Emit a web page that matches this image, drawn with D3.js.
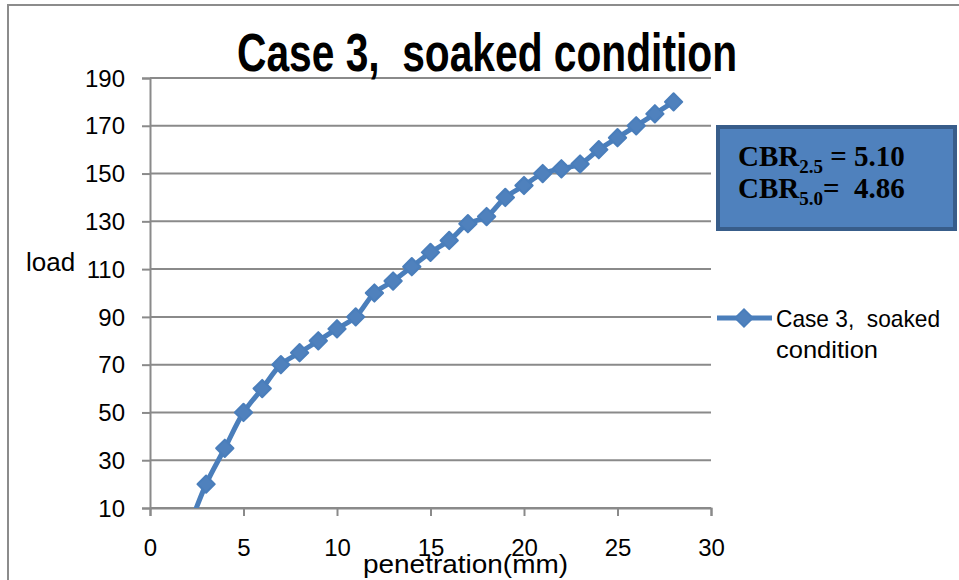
<!DOCTYPE html>
<html><head><meta charset="utf-8">
<script src="https://cdn.jsdelivr.net/npm/d3@7"></script>
<style>
html,body{margin:0;padding:0;background:#fff;}
svg{display:block;}
svg text{white-space:pre;}
</style></head>
<body>
<svg id="chart" width="959" height="580"></svg>
<script>
// ---- data ----
const penetration = [2,3,4,5,6,7,8,9,10,11,12,13,14,15,16,17,18,19,20,21,22,23,24,25,26,27,28];
const load        = [0,20,35,50,60,70,75,80,85,90,100,105,111,117,122,129,132,140,145,150,152,154,160,165,170,175,180];
const xTickValues = [0,5,10,15,20,25,30];
const yTickValues = [10,30,50,70,90,110,130,150,170,190];
const titleText = "Case 3,  soaked condition";
const seriesName = ["Case 3,  soaked", "condition"];
const xLabel = "penetration(mm)";
const yLabel = "load";
const cbrLines = [{sub:"2.5", rest:" = 5.10"}, {sub:"5.0", rest:"=  4.86"}];

const svg = d3.select("#chart");
const W = 959, H = 580;
const gridColor = "#8a8a8a";
const blue = "#4A7EBB";
const sans = "'Liberation Sans', Arial, sans-serif";

// chart frame (only top and left visible)
svg.append("rect").attr("x", 8).attr("y", 5).attr("width", W + 20).attr("height", H + 20)
  .attr("fill", "#fff").attr("stroke", "#8c8c8c").attr("stroke-width", 2);

const x = d3.scaleLinear().domain([0, 30]).range([150, 711]);
const y = d3.scaleLinear().domain([10, 190]).range([508, 78]);

// gridlines
svg.append("g").selectAll("line").data(yTickValues).join("line")
  .attr("x1", x(0)).attr("x2", x(30))
  .attr("y1", d => y(d)).attr("y2", d => y(d))
  .attr("stroke", gridColor).attr("stroke-width", 2);

// y axis
const yAxis = svg.append("g").attr("transform", `translate(${x(0)},0)`)
  .call(d3.axisLeft(y).tickValues(yTickValues).tickSize(8).tickPadding(17));
yAxis.select(".domain").attr("stroke", gridColor).attr("stroke-width", 2);
yAxis.selectAll(".tick line").attr("stroke", gridColor).attr("stroke-width", 2);
yAxis.selectAll(".tick text").attr("font-family", sans).attr("font-size", 24).attr("fill", "#000")
  .attr("dy", "0.34em");

// x axis
const xAxis = svg.append("g").attr("transform", `translate(0,${y(10)})`)
  .call(d3.axisBottom(x).tickValues(xTickValues).tickSize(8).tickPadding(23));
xAxis.select(".domain").attr("stroke", gridColor).attr("stroke-width", 2);
xAxis.selectAll(".tick line").attr("stroke", gridColor).attr("stroke-width", 2);
xAxis.selectAll(".tick text").attr("font-family", sans).attr("font-size", 24).attr("fill", "#000");

// clip
svg.append("clipPath").attr("id", "plotclip").append("rect")
  .attr("x", x(0)).attr("y", y(190) - 40).attr("width", x(30) - x(0) + 30).attr("height", y(10) - y(190) + 40);

const pts = penetration.map((p, i) => [p, load[i]]);
const plot = svg.append("g").attr("clip-path", "url(#plotclip)");
plot.append("path").datum(pts)
  .attr("d", d3.line().x(d => x(d[0])).y(d => y(d[1])).curve(d3.curveCatmullRom))
  .attr("fill", "none").attr("stroke", blue).attr("stroke-width", 5).attr("stroke-linejoin", "round");

const diamond = d3.symbol().type(d3.symbolSquare).size(150);
plot.selectAll("path.mk").data(pts).join("path").attr("class", "mk")
  .attr("d", diamond)
  .attr("transform", d => `translate(${x(d[0])},${y(d[1])}) rotate(45)`)
  .attr("fill", "#4F81BD").attr("stroke", blue).attr("stroke-width", 2).attr("stroke-linejoin", "round");

// title
svg.append("text").attr("x", 487).attr("y", 71).attr("text-anchor", "middle")
  .attr("font-family", "'Liberation Sans Narrow', 'Liberation Sans', Arial, sans-serif")
  .attr("font-weight", "bold").attr("font-size", 53)
  .attr("textLength", 500).attr("lengthAdjust", "spacingAndGlyphs")
  .text(titleText);

// axis labels
svg.append("text").attr("x", 26).attr("y", 271).attr("font-family", sans).attr("font-size", 26)
  .text(yLabel);
svg.append("text").attr("x", 363).attr("y", 573).attr("font-family", sans).attr("font-size", 26)
  .attr("textLength", 205).attr("lengthAdjust", "spacingAndGlyphs").text(xLabel);

// legend
const lg = svg.append("g");
lg.append("line").attr("x1", 717).attr("x2", 772).attr("y1", 318).attr("y2", 318)
  .attr("stroke", blue).attr("stroke-width", 5);
lg.append("path").attr("d", diamond).attr("transform", "translate(744,318) rotate(45)")
  .attr("fill", "#4F81BD").attr("stroke", blue).attr("stroke-width", 2);
const legendWidths = [164, 102];
lg.selectAll("text").data(seriesName).join("text")
  .attr("x", 776).attr("y", (d, i) => 327 + i * 31)
  .attr("font-family", sans).attr("font-size", 24)
  .attr("textLength", (d, i) => legendWidths[i]).attr("lengthAdjust", "spacingAndGlyphs")
  .text(d => d);

// CBR text box
const bx = svg.append("g");
bx.append("rect").attr("x", 718).attr("y", 127).attr("width", 237).attr("height", 102)
  .attr("fill", "#4F81BD").attr("stroke", "#385D8A").attr("stroke-width", 4);
const serif = "'Liberation Serif', 'Times New Roman', serif";
cbrLines.forEach((l, i) => {
  const t = bx.append("text").attr("x", 738).attr("y", 166 + i * 32)
    .attr("font-family", serif).attr("font-weight", "bold").attr("font-size", 29).attr("fill", "#000");
  t.append("tspan").text("CBR");
  t.append("tspan").attr("font-size", 19).attr("dy", 7).text(l.sub);
  t.append("tspan").attr("dy", -7).text(l.rest);
});
</script>
</body></html>
